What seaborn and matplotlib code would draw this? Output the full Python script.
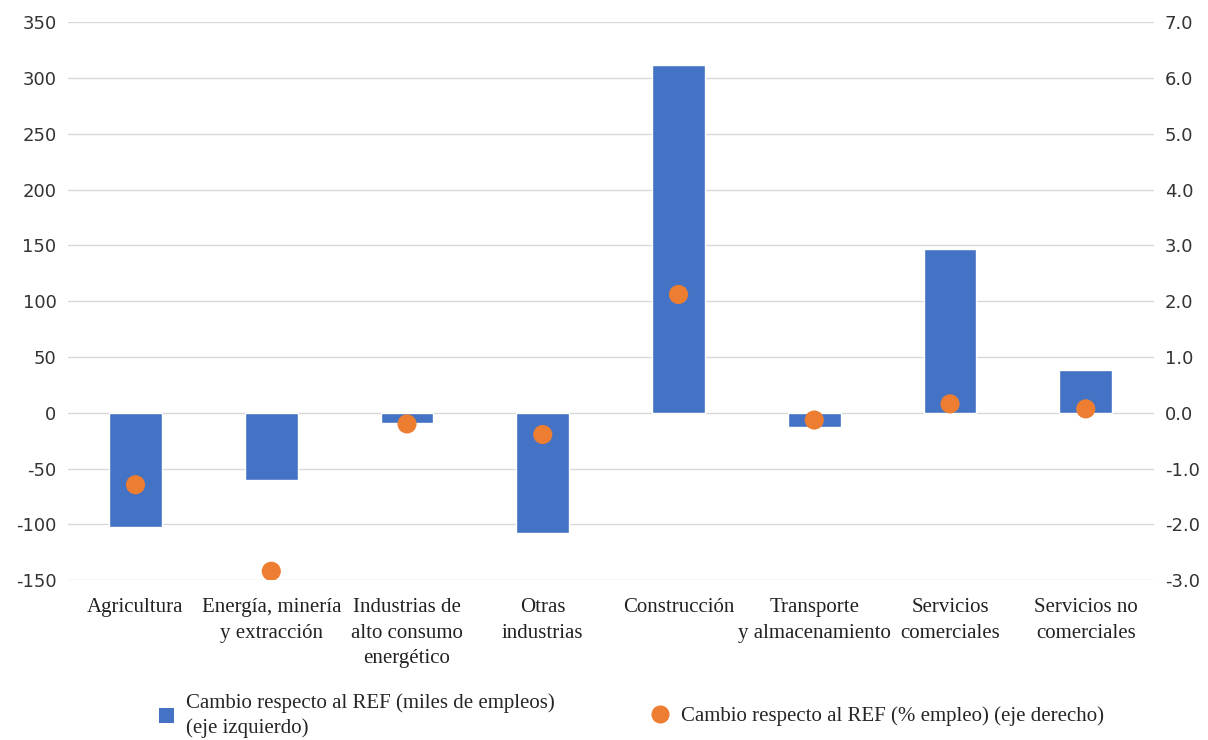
import numpy as np
import pandas as pd
import matplotlib
matplotlib.use('Agg')
import matplotlib.pyplot as plt
import seaborn as sns
from matplotlib.lines import Line2D
from matplotlib.patches import Patch

sectors = ["Agricultura", "Energía, minería\ny extracción", "Industrias de\nalto consumo\nenergético",
           "Otras\nindustrias", "Construcción", "Transporte\ny almacenamiento",
           "Servicios\ncomerciales", "Servicios no\ncomerciales"]
jobs_k = [-102, -60, -9, -108, 312, -13, 147, 38]
jobs_pct = [-1.29, -2.84, -0.20, -0.39, 2.12, -0.13, 0.16, 0.07]

left_ticks = np.arange(-150, 351, 50)
right_ticks = np.arange(-3.0, 7.01, 1.0)

BLUE = "#4472C4"
ORANGE = "#ED7D31"

sns.set_theme(style="white")
plt.rcParams['font.family'] = ['DejaVu Sans']
serif = ['Liberation Serif', 'DejaVu Serif']

df = pd.DataFrame({"sector": sectors, "jobs": jobs_k, "pct": jobs_pct,
                   "pos": np.arange(len(sectors))})

fig = plt.figure(figsize=(12.08, 7.40), dpi=100)
ax = fig.add_axes([0.056, 0.216, 0.899, 0.754])

sns.barplot(data=df, x="sector", y="jobs", color=BLUE, saturation=1, width=0.39, ax=ax)
ax.set_ylim(-150, 350)
ax.set_yticks(left_ticks)
ax.set_yticklabels([f"{v:d}" for v in left_ticks], fontsize=13, color="#333333")
ax.grid(axis="y", color="#d9d9d9", linewidth=1)
ax.set_axisbelow(True)
ax.set_xlabel("")
ax.set_ylabel("")
ax.set_xticks(np.arange(len(sectors)))
ax.set_xticklabels(sectors, fontsize=15, family=serif, color="#222222", linespacing=1.45)
ax.tick_params(axis="x", length=0, pad=13)
ax.tick_params(axis="y", length=0, pad=8)
ax.set_xlim(-0.5, len(sectors) - 0.5)
for s in ax.spines.values():
    s.set_visible(False)

ax2 = ax.twinx()
sns.scatterplot(data=df, x="pos", y="pct", color=ORANGE, s=190, edgecolor="none", ax=ax2, zorder=5)
ax2.set_ylim(-3.0, 7.0)
ax2.set_yticks(right_ticks)
ax2.set_yticklabels([f"{v:.1f}" for v in right_ticks], fontsize=13, color="#333333")
ax2.tick_params(axis="y", length=0, pad=8)
ax2.set_ylabel("")
ax2.grid(False)
for s in ax2.spines.values():
    s.set_visible(False)

h1 = Patch(facecolor=BLUE, edgecolor="none")
leg1 = fig.legend([h1], ["Cambio respecto al REF (miles de empleos)\n(eje izquierdo)"],
                  loc="center left", bbox_to_anchor=(0.121, 0.033), frameon=False,
                  prop={'family': serif, 'size': 15}, handlelength=0.75, handleheight=0.75,
                  handletextpad=0.55, borderaxespad=0.2)
for t in leg1.get_texts():
    t.set_linespacing(1.3)
h2 = Line2D([], [], marker="o", color=ORANGE, linestyle="none", markersize=12)
fig.legend([h2], ["Cambio respecto al REF (% empleo) (eje derecho)"],
           loc="center left", bbox_to_anchor=(0.522, 0.032), frameon=False,
           prop={'family': serif, 'size': 15}, handlelength=1.0, handletextpad=0.5)

fig.savefig("out.png", dpi=100)
